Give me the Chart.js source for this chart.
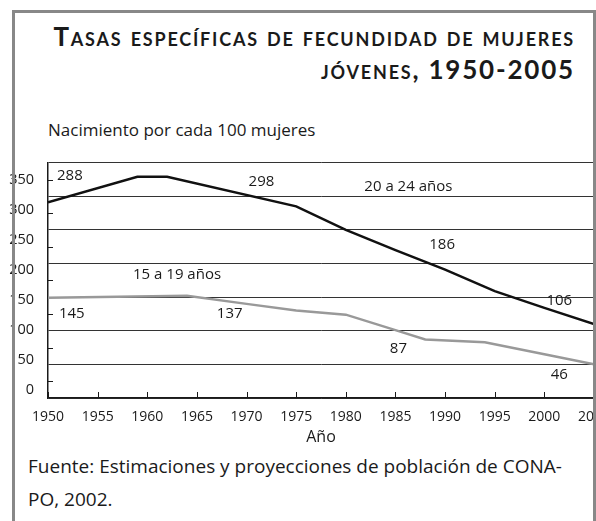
<!DOCTYPE html>
<html>
<head>
<meta charset="utf-8">
<script src="https://cdn.jsdelivr.net/npm/chart.js@4/dist/chart.umd.min.js"></script>
<style>
  body { margin: 0; width: 596px; height: 521px; overflow: hidden; background: #fff; font-family: "Open Sans", sans-serif; color: #1a1a1a; position: relative; }
  .edge { position: absolute; background: #888; z-index: 5; }
  #title { position: absolute; right: 21px; top: 20px; text-align: right; font-family: Lato, sans-serif; font-weight: bold; font-variant: small-caps; font-size: 26px; line-height: 33px; letter-spacing: 1.8px; color: #1a1a1a; white-space: nowrap; }
  #sub { position: absolute; left: 48px; top: 118px; font-size: 17px; }
  #note { position: absolute; left: 28px; top: 450px; font-size: 19px; line-height: 33px; white-space: nowrap; }
  #wrap { position: absolute; left: 0; top: 148px; width: 596px; height: 302px; }
</style>
</head>
<body>
<div class="edge" style="left:12px;top:10px;width:3px;height:511px"></div>
<div class="edge" style="left:12px;top:10px;width:584px;height:3px"></div>
<div class="edge" style="left:593px;top:10px;width:3px;height:511px"></div>
<div id="title">Tasas específicas de fecundidad de mujeres<br>jóvenes, 1950-2005</div>
<div id="sub">Nacimiento por cada 100 mujeres</div>
<div id="wrap"><canvas id="chart"></canvas></div>
<div id="note">Fuente: Estimaciones y proyecciones de población de CONA-<br>PO, 2002.</div>
<script>
// 20 a 24 años
var years20 = [1950, 1959, 1962, 1975, 1980, 1985, 1990, 1995, 2000, 2005];
var rate20  = [291, 329, 329, 285, 250, 220, 191, 159, 134, 110];
// 15 a 19 años
var years15 = [1950, 1964, 1970, 1975, 1980, 1985, 1988, 1994, 2000, 2005];
var rate15  = [149, 152, 140, 130, 124, 101, 87, 83, 65, 50];

var yTicks = [0, 50, 100, 150, 200, 250, 300, 350];

// text printed inside the plot, anchored in data units
var noteText = ["288", "298", "20 a 24 años", "186", "106", "15 a 19 años", "145", "137", "87", "46"];
var noteYear = [1952.2, 1971.5, 1986.3, 1989.7, 2001.5, 1963, 1952.4, 1968.3, 1985.3, 2001.5];
var noteVal  = [331, 322, 314, 228, 145, 183, 126, 126, 73, 34];

function pts(xs, ys) {
  return xs.map(function (x, i) { return { x: x, y: ys[i] }; });
}

// small tick marks drawn inside the plot + the text notes
var extras = {
  id: "extras",
  afterDatasetsDraw: function (chart) {
    var ctx = chart.ctx, a = chart.chartArea;
    var x = chart.scales.x, y = chart.scales.y;
    ctx.save();
    ctx.strokeStyle = "#1a1a1a";
    ctx.lineWidth = 1;
    ctx.beginPath();
    for (var v = 25; v < 350; v += 50) {
      var py = Math.round(y.getPixelForValue(v)) + 0.5;
      ctx.moveTo(a.left, py);
      ctx.lineTo(a.left + 5, py);
    }
    x.ticks.forEach(function (t) {
      var px = Math.round(x.getPixelForValue(t.value)) + 0.5;
      ctx.moveTo(px, a.bottom);
      ctx.lineTo(px, a.bottom - 6);
    });
    ctx.stroke();
    ctx.fillStyle = "#1a1a1a";
    ctx.font = '15px "Open Sans"';
    ctx.textAlign = "center";
    ctx.textBaseline = "middle";
    noteText.forEach(function (s, i) {
      ctx.fillText(s, x.getPixelForValue(noteYear[i]), y.getPixelForValue(noteVal[i]));
    });
    ctx.restore();
  }
};

new Chart(document.getElementById("chart"), {
  type: "line",
  data: {
    datasets: [
      { label: "20 a 24 años", data: pts(years20, rate20), borderColor: "#111", borderWidth: 2.5, pointRadius: 0, tension: 0 },
      { label: "15 a 19 años", data: pts(years15, rate15), borderColor: "#999", borderWidth: 2.5, pointRadius: 0, tension: 0 }
    ]
  },
  options: {
    responsive: true,
    maintainAspectRatio: false,
    animation: false,
    layout: { padding: { top: 10, right: 2, left: 0, bottom: 0 } },
    plugins: { legend: { display: false }, tooltip: { enabled: false } },
    scales: {
      x: {
        type: "linear",
        min: 1950, max: 2005,
        grid: { display: false },
        border: { display: true, color: "#1a1a1a", width: 1.5 },
        ticks: {
          stepSize: 5, color: "#1a1a1a", font: { family: "Open Sans", size: 14 }, padding: 3, maxRotation: 0, autoSkip: false,
          callback: function (v) { return String(v); }
        },
        title: { display: true, text: "Año", color: "#1a1a1a", font: { family: "Open Sans", size: 16 }, padding: { top: 0, bottom: 3 } },
        afterFit: function (s) { s.height = 52; s.paddingLeft = 0; s.paddingRight = 0; }
      },
      y: {
        position: "left",
        weight: 0,
        min: 0, max: 350,
        ticks: { display: false, stepSize: 50 },
        grid: { color: "#333", lineWidth: 1, drawTicks: false },
        border: { display: true, color: "#1a1a1a", width: 1.5 },
        afterFit: function (s) { s.width = 0; }
      },
      yl: {
        position: "left",
        weight: 5,
        min: -13, max: 379,
        afterBuildTicks: function (s) { s.ticks = yTicks.map(function (v) { return { value: v }; }); },
        grid: { display: false },
        border: { display: false },
        ticks: { color: "#1a1a1a", font: { family: "Open Sans", size: 14.5 }, padding: 6 },
        afterFit: function (s) { s.width = 48; }
      }
    }
  },
  plugins: [extras]
});
</script>
</body>
</html>
